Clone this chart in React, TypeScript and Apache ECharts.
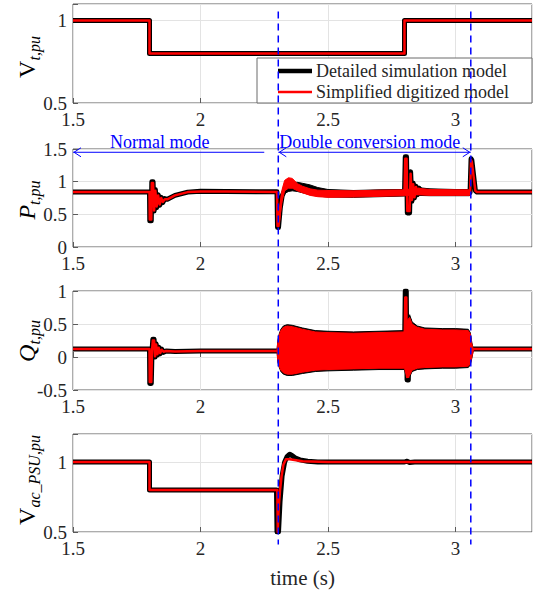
import React, { useEffect, useRef } from 'react';
import * as echarts from 'echarts';

const FONT = 'Liberation Serif';
const BLUE = '#0000ff';
const BLACK = '#000000';
const RED = '#ff0000';
const TEXT = '#262626';

// x axis
const timeMin = 1.5;
const timeMax = 3.3;
const timeInterval = 0.5;
const xTitle = 'time (s)';
const legendLabels = ['Detailed simulation model', 'Simplified digitized model'];
const modeLabels = ['Normal mode', 'Double conversion mode'];
const modeSwitchTimes = [2.305, 3.06];
const normalArrowEnd = 2.25;
const modeArrowLevel = 1.45; // in P axis units
const modeTextLevel = 1.6;
const normalTextCenter = 1.84;

// ---- Panel 1: V_t,pu ----
const vtTime = [1.5, 1.8, 1.8, 2.8, 2.8, 3.3];
const vtDetailed = [1, 1, 0.8, 0.8, 1, 1];
const vtSimplified = [1, 1, 0.8, 0.8, 1, 1];

// ---- Panel 2: P_t,pu ----
const pDetTime = [1.5, 1.8, 1.801, 1.807, 1.809, 1.814, 1.818, 1.823, 1.828, 1.834, 1.84, 1.846, 1.852, 1.86, 1.87, 1.9, 1.95, 2.0, 2.1, 2.3, 2.302, 2.306, 2.313, 2.32, 2.33, 2.36, 2.4, 2.45, 2.5, 2.6, 2.7, 2.8, 2.803, 2.808, 2.811, 2.82, 2.824, 2.829, 2.834, 2.839, 2.845, 2.85, 2.857, 2.867, 2.9, 3.0, 3.057, 3.061, 3.064, 3.078, 3.085, 3.3];
const pDetValues = [0.84, 0.84, 0.4, 0.4, 1.0, 1.0, 0.55, 0.88, 0.6, 0.8, 0.64, 0.76, 0.68, 0.74, 0.73, 0.79, 0.84, 0.855, 0.85, 0.845, 0.3, 0.3, 0.6, 0.78, 0.87, 0.92, 0.9, 0.86, 0.82, 0.81, 0.82, 0.83, 1.38, 1.38, 0.52, 0.52, 1.15, 0.7, 0.98, 0.75, 0.93, 0.8, 0.9, 0.85, 0.84, 0.83, 0.83, 1.35, 1.33, 0.86, 0.84, 0.84];
const pSimTime = [1.5, 1.8, 1.801, 1.807, 1.809, 1.814, 1.818, 1.823, 1.828, 1.834, 1.84, 1.846, 1.852, 1.86, 1.87, 1.9, 1.95, 2.0, 2.1, 2.3, 2.302, 2.306, 2.313, 2.32, 2.33, 2.345, 2.38, 2.43, 2.5, 2.6, 2.7, 2.8, 2.803, 2.808, 2.811, 2.82, 2.824, 2.829, 2.834, 2.839, 2.845, 2.85, 2.857, 2.867, 2.9, 3.0, 3.057, 3.061, 3.064, 3.078, 3.085, 3.3];
const pSimValues = [0.84, 0.84, 0.42, 0.42, 0.98, 0.98, 0.56, 0.86, 0.62, 0.79, 0.65, 0.75, 0.69, 0.73, 0.73, 0.79, 0.84, 0.85, 0.85, 0.84, 0.32, 0.32, 0.62, 0.8, 0.94, 0.98, 0.92, 0.84, 0.81, 0.81, 0.82, 0.83, 1.35, 1.35, 0.55, 0.55, 1.12, 0.72, 0.96, 0.76, 0.92, 0.81, 0.89, 0.84, 0.84, 0.83, 0.83, 1.33, 1.3, 0.86, 0.84, 0.84];
const pDetBandTime = [2.33, 2.345, 2.36, 2.38, 2.4, 2.43, 2.46, 2.5, 2.6, 2.7, 2.8, 2.85, 2.9, 3.0, 3.055];
const pDetBandUpper = [0.92, 0.97, 0.99, 0.99, 0.975, 0.95, 0.91, 0.88, 0.865, 0.875, 0.88, 0.91, 0.89, 0.88, 0.88];
const pDetBandLower = [0.82, 0.85, 0.86, 0.85, 0.83, 0.8, 0.78, 0.765, 0.76, 0.77, 0.78, 0.79, 0.785, 0.785, 0.785];
const pSimBandTime = [2.31, 2.32, 2.33, 2.345, 2.36, 2.38, 2.4, 2.43, 2.46, 2.5, 2.6, 2.7, 2.8, 2.85, 2.9, 3.0, 3.055];
const pSimBandUpper = [0.55, 0.88, 1.02, 1.06, 1.05, 0.97, 0.93, 0.89, 0.87, 0.865, 0.86, 0.87, 0.875, 0.9, 0.88, 0.875, 0.875];
const pSimBandLower = [0.4, 0.7, 0.86, 0.9, 0.9, 0.86, 0.83, 0.79, 0.77, 0.76, 0.765, 0.775, 0.785, 0.8, 0.79, 0.79, 0.79];

// ---- Panel 3: Q_t,pu ----
const qDetTime = [1.5, 1.8, 1.801, 1.807, 1.81, 1.813, 1.818, 1.822, 1.826, 1.831, 1.836, 1.842, 1.848, 1.855, 1.865, 1.9, 2.0, 2.3, 2.8, 2.803, 2.807, 2.81, 2.815, 2.819, 2.823, 2.828, 2.834, 2.84, 2.85, 3.07, 3.3];
const qDetValues = [0.12, 0.12, -0.4, -0.4, 0.1, 0.27, 0.27, 0.0, 0.2, 0.03, 0.15, 0.05, 0.12, 0.07, 0.09, 0.085, 0.09, 0.09, 0.1, 1.0, 1.0, -0.35, -0.35, 0.55, -0.2, 0.42, -0.1, 0.3, 0.1, 0.12, 0.12];
const qSimTime = [1.5, 1.8, 1.801, 1.807, 1.81, 1.813, 1.818, 1.822, 1.826, 1.831, 1.836, 1.842, 1.848, 1.855, 1.865, 1.9, 2.0, 2.3, 2.8, 2.803, 2.807, 2.81, 2.815, 2.819, 2.823, 2.828, 2.834, 2.84, 2.85, 3.07, 3.3];
const qSimValues = [0.12, 0.12, -0.38, -0.38, 0.1, 0.25, 0.25, 0.01, 0.19, 0.04, 0.14, 0.06, 0.11, 0.08, 0.09, 0.085, 0.09, 0.09, 0.1, 0.9, 0.9, -0.3, -0.3, 0.5, -0.18, 0.4, -0.08, 0.28, 0.1, 0.12, 0.12];
const qDetBandTime = [2.3, 2.303, 2.308, 2.315, 2.325, 2.34, 2.36, 2.4, 2.45, 2.5, 2.6, 2.7, 2.8, 2.81, 2.82, 2.83, 2.85, 2.88, 2.95, 3.0, 3.05, 3.058, 3.064, 3.07];
const qDetBandUpper = [0.1, 0.24, 0.34, 0.42, 0.47, 0.49, 0.48, 0.44, 0.4, 0.39, 0.38, 0.39, 0.4, 0.6, 0.64, 0.53, 0.47, 0.44, 0.43, 0.43, 0.42, 0.37, 0.22, 0.11];
const qDetBandLower = [0.1, -0.07, -0.15, -0.22, -0.26, -0.28, -0.28, -0.25, -0.22, -0.21, -0.2, -0.19, -0.19, -0.36, -0.3, -0.22, -0.19, -0.18, -0.17, -0.17, -0.16, -0.12, -0.02, 0.1];
const qSimBandTime = [2.3, 2.303, 2.308, 2.315, 2.325, 2.34, 2.36, 2.4, 2.45, 2.5, 2.6, 2.7, 2.8, 2.81, 2.82, 2.83, 2.85, 2.88, 2.95, 3.0, 3.05, 3.058, 3.064, 3.07];
const qSimBandUpper = [0.1, 0.22, 0.32, 0.4, 0.45, 0.47, 0.46, 0.42, 0.38, 0.37, 0.36, 0.37, 0.38, 0.55, 0.6, 0.5, 0.45, 0.42, 0.41, 0.41, 0.4, 0.35, 0.2, 0.11];
const qSimBandLower = [0.1, -0.05, -0.13, -0.2, -0.24, -0.26, -0.26, -0.23, -0.2, -0.19, -0.18, -0.17, -0.17, -0.32, -0.28, -0.2, -0.17, -0.16, -0.15, -0.15, -0.14, -0.1, 0.0, 0.1];

// ---- Panel 4: V_ac_PSU,pu ----
const vacDetTime = [1.5, 1.8, 1.8, 2.298, 2.3, 2.306, 2.312, 2.32, 2.33, 2.34, 2.35, 2.36, 2.37, 2.39, 2.42, 2.46, 2.5, 2.8, 2.81, 2.82, 2.84, 3.3];
const vacDetValues = [1, 1, 0.8, 0.8, 0.5, 0.5, 0.72, 0.9, 1.0, 1.04, 1.055, 1.045, 1.03, 1.015, 1.005, 1.0, 1.0, 1.0, 1.006, 0.997, 1.0, 1.0];
const vacSimTime = [1.5, 1.8, 1.8, 2.301, 2.303, 2.305, 2.307, 2.312, 2.318, 2.325, 2.335, 2.35, 2.4, 2.5, 3.3];
const vacSimValues = [1, 1, 0.8, 0.8, 0.5, 0.5, 0.68, 0.8, 0.9, 0.98, 1.02, 1.02, 1.005, 1.0, 1.0];

const panels = [
  { top: 4, height: 99, min: 0.5, max: 1.1, main: 'V', italic: false, sub: 't,pu', titleY: 57 },
  { top: 149, height: 98, min: 0, max: 1.5, main: 'P', italic: true, sub: 't,pu', titleY: 200 },
  { top: 291, height: 99, min: -0.5, max: 1, main: 'Q', italic: true, sub: 't,pu', titleY: 341 },
  { top: 434, height: 98, min: 0.5, max: 1.2, main: 'V', italic: false, sub: 'ac_PSU,pu', titleY: 480 },
];
const GRID_LEFT = 73;
const GRID_WIDTH = 459;

const zip = (t: number[], v: number[]) => t.map((x, i) => [x, v[i]]);

const isTick = (v: number) => Math.abs(v / 0.5 - Math.round(v / 0.5)) < 1e-6;
const fmt = (v: number) => (isTick(v) ? String(+v.toFixed(2)) : '');

let zCounter = 2;

function lineSeries(idx: number, t: number[], v: number[], color: string, width: number) {
  return {
    type: 'line',
    xAxisIndex: idx,
    yAxisIndex: idx,
    z: zCounter++,
    data: zip(t, v),
    showSymbol: false,
    symbol: 'none',
    lineStyle: { color, width, join: 'round' },
    silent: true,
  };
}

function bandSeries(idx: number, t: number[], upper: number[], lower: number[], color: string) {
  const up = zip(t, upper);
  const lo = zip(t, lower).reverse();
  return {
    type: 'custom',
    xAxisIndex: idx,
    yAxisIndex: idx,
    z: zCounter++,
    data: [[t[0], upper[0]]],
    encode: { x: 0, y: 1 },
    silent: true,
    renderItem: (_p: any, api: any) => {
      const pts = [...up, ...lo].map((p) => api.coord(p));
      return {
        type: 'polygon',
        shape: { points: pts },
        style: { fill: color, stroke: color, lineWidth: 1 },
      };
    },
  };
}

export default function App() {
  const ref = useRef<HTMLDivElement>(null);
  useEffect(() => {
    document.body.style.margin = '0';
    if (!ref.current) return;
    const chart = echarts.init(ref.current, undefined, { renderer: 'svg' });
    zCounter = 2;

    const grid = panels.map((p) => ({
      left: GRID_LEFT,
      width: GRID_WIDTH,
      top: p.top,
      height: p.height,
      show: true,
      borderColor: '#5a5a5a',
      borderWidth: 1,
      backgroundColor: '#ffffff',
    }));
    const labelStyle = { fontFamily: FONT, fontSize: 19, color: TEXT };
    const xAxis = panels.map((_p, i) => ({
      type: 'value',
      gridIndex: i,
      min: timeMin,
      max: timeMax,
      interval: timeInterval,
      axisLine: { show: false },
      axisTick: { show: true, inside: true, length: 5, lineStyle: { color: '#5a5a5a' } },
      splitLine: { show: true, lineStyle: { color: '#e3e3e3', width: 1 } },
      axisLabel: { ...labelStyle, formatter: fmt, margin: 7, showMaxLabel: false },
    }));
    const yAxis = panels.map((p, i) => ({
      type: 'value',
      gridIndex: i,
      min: p.min,
      max: p.max,
      interval: 0.5,
      axisLine: { show: false },
      axisTick: { show: true, inside: true, length: 5, lineStyle: { color: '#5a5a5a' } },
      splitLine: { show: true, lineStyle: { color: '#e3e3e3', width: 1 } },
      axisLabel: { ...labelStyle, formatter: fmt, margin: 6 },
    }));

    const BW = 5;
    const RW = 2.5;
    const series: any[] = [
      lineSeries(0, vtTime, vtDetailed, BLACK, BW),
      lineSeries(0, vtTime, vtSimplified, RED, RW),

      lineSeries(1, pDetTime, pDetValues, BLACK, BW),
      bandSeries(1, pDetBandTime, pDetBandUpper, pDetBandLower, BLACK),
      lineSeries(1, pSimTime, pSimValues, RED, RW),
      bandSeries(1, pSimBandTime, pSimBandUpper, pSimBandLower, RED),

      bandSeries(2, qDetBandTime, qDetBandUpper, qDetBandLower, BLACK),
      lineSeries(2, qDetTime, qDetValues, BLACK, BW),
      bandSeries(2, qSimBandTime, qSimBandUpper, qSimBandLower, RED),
      lineSeries(2, qSimTime, qSimValues, RED, RW),

      lineSeries(3, vacDetTime, vacDetValues, BLACK, BW),
      lineSeries(3, vacSimTime, vacSimValues, RED, RW),
    ];

    chart.setOption({ animation: false, textStyle: { fontFamily: FONT }, grid, xAxis, yAxis, series });

    const px = (i: number, t: number, v: number) =>
      chart.convertToPixel({ xAxisIndex: i, yAxisIndex: i } as any, [t, v]) as number[];

    const graphic: any[] = [];
    // legend box
    const lx = 257, ly = 58, lw = 532 - 257, lh = 45;
    graphic.push({ type: 'rect', z: 50, shape: { x: lx, y: ly, width: lw, height: lh }, style: { fill: '#fff', stroke: '#6a6a6a', lineWidth: 1 } });
    graphic.push({ type: 'line', z: 51, shape: { x1: 278, y1: 71, x2: 312, y2: 71 }, style: { stroke: BLACK, lineWidth: 4.5 } });
    graphic.push({ type: 'line', z: 51, shape: { x1: 278, y1: 92, x2: 312, y2: 92 }, style: { stroke: RED, lineWidth: 2.5 } });
    legendLabels.forEach((txt, k) => {
      graphic.push({ type: 'text', z: 51, x: 316, y: k === 0 ? 71 : 92, style: { text: txt, fontFamily: FONT, fontSize: 18, fill: TEXT, align: 'left', verticalAlign: 'middle' } });
    });

    // dashed mode-switch lines
    modeSwitchTimes.forEach((t) => {
      const a = px(0, t, 1.055);
      const b = px(3, t, 0.41);
      graphic.push({ type: 'line', z: 100, shape: { x1: a[0], y1: a[1], x2: b[0], y2: b[1] }, style: { stroke: BLUE, lineWidth: 1.5, lineDash: [7, 5] } });
    });

    // arrows
    const ah = 8, aw = 4.5;
    const n0 = px(1, timeMin, modeArrowLevel);
    const n1 = px(1, normalArrowEnd, modeArrowLevel);
    graphic.push({ type: 'line', z: 90, shape: { x1: n0[0], y1: n0[1], x2: n1[0], y2: n1[1] }, style: { stroke: BLUE, lineWidth: 1 } });
    graphic.push({ type: 'polyline', z: 90, shape: { points: [[n0[0] + ah, n0[1] - aw], [n0[0] + 1, n0[1]], [n0[0] + ah, n0[1] + aw]] }, style: { stroke: BLUE, lineWidth: 1, fill: null } });
    const d0 = px(1, modeSwitchTimes[0], modeArrowLevel);
    const d1 = px(1, modeSwitchTimes[1], modeArrowLevel);
    graphic.push({ type: 'line', z: 90, shape: { x1: d0[0], y1: d0[1], x2: d1[0], y2: d1[1] }, style: { stroke: BLUE, lineWidth: 1 } });
    graphic.push({ type: 'polyline', z: 90, shape: { points: [[d0[0] + ah, d0[1] - aw], [d0[0] + 1, d0[1]], [d0[0] + ah, d0[1] + aw]] }, style: { stroke: BLUE, lineWidth: 1, fill: null } });
    graphic.push({ type: 'polyline', z: 90, shape: { points: [[d1[0] - ah, d1[1] - aw], [d1[0] - 1, d1[1]], [d1[0] - ah, d1[1] + aw]] }, style: { stroke: BLUE, lineWidth: 1, fill: null } });

    const nt = px(1, normalTextCenter, modeTextLevel);
    graphic.push({ type: 'text', z: 90, x: nt[0], y: nt[1], style: { text: modeLabels[0], fontFamily: FONT, fontSize: 18, fill: BLUE, align: 'center', verticalAlign: 'middle' } });
    const dt = px(1, modeSwitchTimes[0], modeTextLevel);
    graphic.push({ type: 'text', z: 90, x: dt[0] + 1, y: dt[1], style: { text: modeLabels[1], fontFamily: FONT, fontSize: 18, fill: BLUE, align: 'left', verticalAlign: 'middle' } });

    // y titles
    panels.forEach((p) => {
      graphic.push({
        type: 'text',
        z: 90,
        x: 27,
        y: p.titleY,
        rotation: Math.PI / 2,
        style: {
          text: `{m|${p.main}}{s|${p.sub}}`,
          align: 'center',
          verticalAlign: 'middle',
          rich: {
            m: { fontFamily: FONT, fontSize: 24, fontStyle: p.italic ? 'italic' : 'normal', fill: BLACK, lineHeight: 30, verticalAlign: 'middle' },
            s: { fontFamily: FONT, fontSize: 16, fontStyle: 'italic', fill: BLACK, lineHeight: 14, verticalAlign: 'bottom' },
          },
        },
      });
    });

    // x title
    graphic.push({ type: 'text', z: 90, x: GRID_LEFT + GRID_WIDTH / 2, y: 578, style: { text: xTitle, fontFamily: FONT, fontSize: 21, fill: TEXT, align: 'center', verticalAlign: 'middle' } });

    chart.setOption({ graphic });

    return () => chart.dispose();
  }, []);
  return <div ref={ref} style={{ width: 537, height: 593 }} />;
}
